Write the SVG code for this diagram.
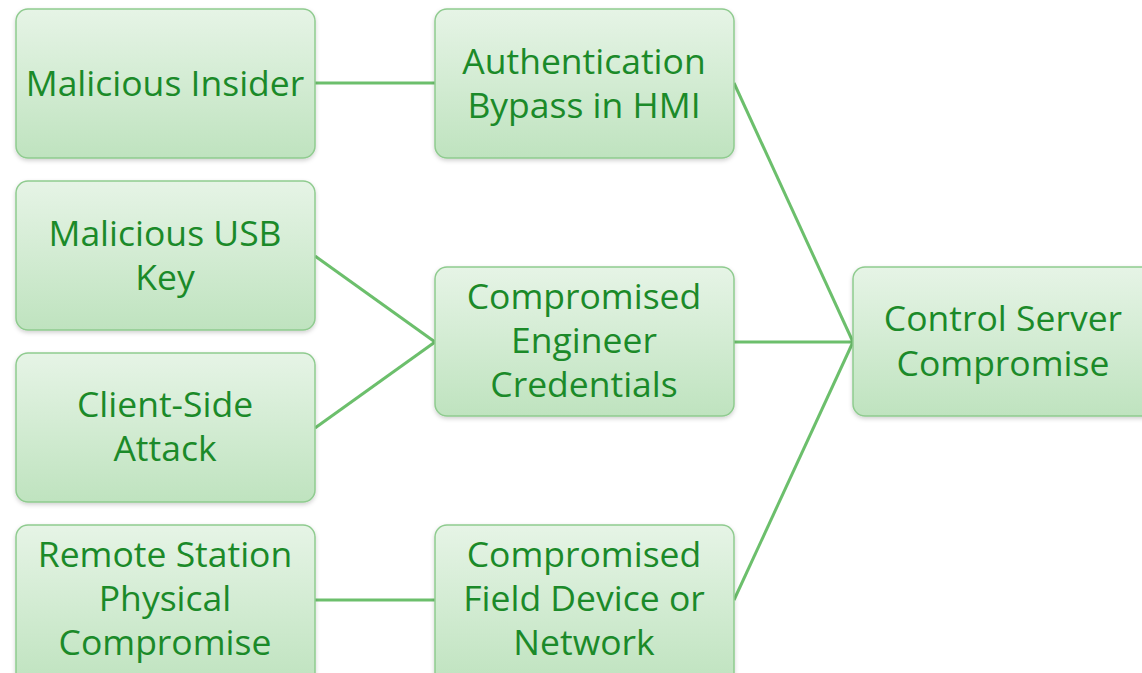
<svg xmlns="http://www.w3.org/2000/svg" width="1142" height="673" viewBox="0 0 1142 673">
  <defs>
    <linearGradient id="boxFill" x1="0" y1="0" x2="0" y2="1">
      <stop offset="0" stop-color="#e6f4e6"/>
      <stop offset="1" stop-color="#bfe3bf"/>
    </linearGradient>
    <filter id="shadow" x="-5%" y="-5%" width="110%" height="115%">
      <feDropShadow dx="0" dy="2" stdDeviation="2" flood-color="#000" flood-opacity="0.18"/>
    </filter>
  </defs>
  <style>
    .box { fill: url(#boxFill); stroke: #8fcb8f; stroke-width: 1.5; filter: url(#shadow); }
    .label { font-family: "Open Sans", "Liberation Sans", sans-serif; font-size: 35.5px; fill: #1b8a29; text-anchor: middle; }
    .link { stroke: #6cbf6c; stroke-width: 3; fill: none; }
  </style>
  <rect width="1142" height="673" fill="#ffffff"/>

  <g id="connectors">
    <line class="link" x1="315" y1="83" x2="435" y2="83"/>
    <line class="link" x1="315" y1="256" x2="435" y2="342"/>
    <line class="link" x1="315" y1="428" x2="435" y2="342"/>
    <line class="link" x1="315" y1="600" x2="435" y2="600"/>
    <line class="link" x1="734" y1="83" x2="853" y2="342"/>
    <line class="link" x1="734" y1="342" x2="853" y2="342"/>
    <line class="link" x1="734" y1="600" x2="853" y2="342"/>
  </g>

  <g id="malicious-insider">
    <rect class="box" x="16" y="9" width="299" height="149" rx="12"/>
    <text class="label" x="165" y="96">Malicious Insider</text>
  </g>
  <g id="malicious-usb-key">
    <rect class="box" x="16" y="181" width="299" height="149" rx="12"/>
    <text class="label" x="165" y="246">Malicious USB</text>
    <text class="label" x="165" y="290">Key</text>
  </g>
  <g id="client-side-attack">
    <rect class="box" x="16" y="353" width="299" height="149" rx="12"/>
    <text class="label" x="165" y="417">Client-Side</text>
    <text class="label" x="165" y="461">Attack</text>
  </g>
  <g id="remote-station">
    <rect class="box" x="16" y="525" width="299" height="160" rx="12"/>
    <text class="label" x="165" y="567">Remote Station</text>
    <text class="label" x="165" y="611">Physical</text>
    <text class="label" x="165" y="655">Compromise</text>
  </g>
  <g id="auth-bypass">
    <rect class="box" x="435" y="9" width="299" height="149" rx="12"/>
    <text class="label" x="584" y="74">Authentication</text>
    <text class="label" x="584" y="118">Bypass in HMI</text>
  </g>
  <g id="engineer-credentials">
    <rect class="box" x="435" y="267" width="299" height="149" rx="12"/>
    <text class="label" x="584" y="309">Compromised</text>
    <text class="label" x="584" y="353">Engineer</text>
    <text class="label" x="584" y="397">Credentials</text>
  </g>
  <g id="field-device">
    <rect class="box" x="435" y="525" width="299" height="160" rx="12"/>
    <text class="label" x="584" y="567">Compromised</text>
    <text class="label" x="584" y="611">Field Device or</text>
    <text class="label" x="584" y="655">Network</text>
  </g>
  <g id="control-server">
    <rect class="box" x="853" y="267" width="310" height="149" rx="12"/>
    <text class="label" x="1003" y="331">Control Server</text>
    <text class="label" x="1003" y="376">Compromise</text>
  </g>
</svg>
